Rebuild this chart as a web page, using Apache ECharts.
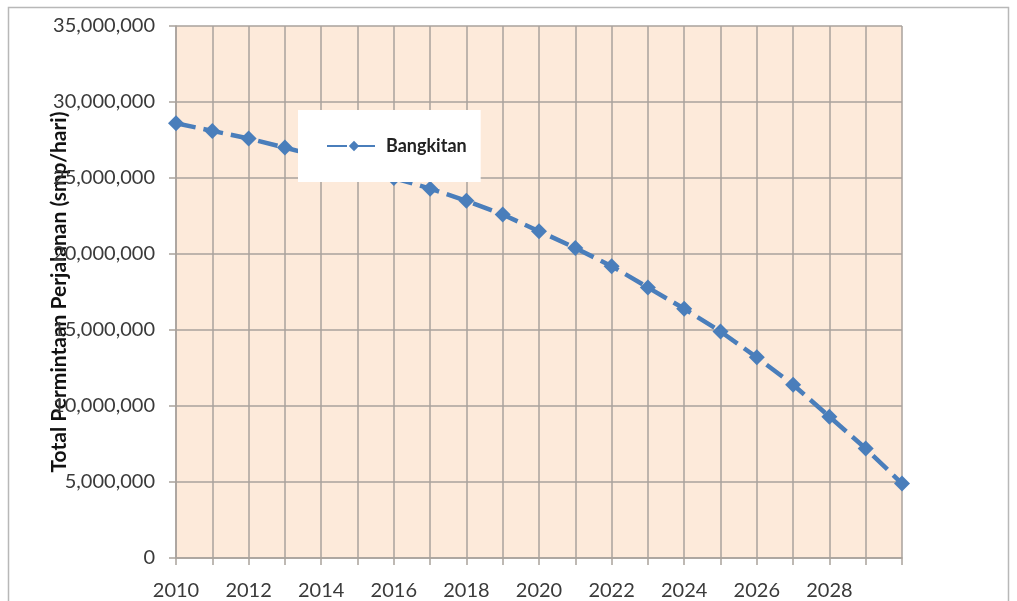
<!DOCTYPE html>
<html>
<head>
<meta charset="utf-8">
<script src="https://cdn.jsdelivr.net/npm/echarts@6/dist/echarts.min.js"></script>
<style>
    html, body { margin: 0; padding: 0; background: #fff; }
    #chart { width: 1017px; height: 601px; }
</style>
</head>
<body>
<div id="chart"></div>
<script>
var years = ['2010', '2011', '2012', '2013', '2014', '2015', '2016', '2017', '2018', '2019', '2020',
             '2021', '2022', '2023', '2024', '2025', '2026', '2027', '2028', '2029', '2030'];
var shownYears = ['2010', '2012', '2014', '2016', '2018', '2020', '2022', '2024', '2026', '2028'];
var bangkitan = [28600000, 28100000, 27600000, 27000000, 26400000, 25700000, 25000000, 24300000,
                 23500000, 22600000, 21500000, 20400000, 19200000, 17800000, 16400000, 14900000,
                 13200000, 11400000, 9300000, 7200000, 4900000];
var seriesName = 'Bangkitan';
var yTitle = 'Total Permintaan Perjalanan (smp/hari)';

var font = 'Lato';
var blue = '#4a7ebb';
var gridColor = '#a9a29c';

function fmt(v) {
    return String(v).replace(/\B(?=(\d{3})+(?!\d))/g, ',');
}

var option = {
    animation: false,
    backgroundColor: '#fff',
    textStyle: { fontFamily: font },
    graphic: [{
        type: 'rect',
        shape: { x: 8.5, y: 7.5, width: 1000, height: 620 },
        style: { fill: 'none', stroke: '#b8b8b8', lineWidth: 1.5 },
        silent: true
    }],
    grid: {
        left: 176, top: 26, width: 726, height: 532,
        show: true,
        backgroundColor: '#fdeada',
        borderWidth: 0
    },
    legend: {
        left: 298, top: 110,
        padding: [27, 14, 27, 28],
        backgroundColor: '#fff',
        itemWidth: 54,
        itemHeight: 13,
        itemGap: 8,
        textStyle: { fontFamily: font, fontSize: 18, fontWeight: 'bold', color: '#222' },
        data: [seriesName]
    },
    xAxis: {
        type: 'category',
        data: years,
        boundaryGap: false,
        axisLine: { show: true, lineStyle: { color: gridColor, width: 1.5 } },
        axisTick: { show: true, interval: 0, length: 7, lineStyle: { color: gridColor, width: 1.5 } },
        splitLine: { show: true, interval: 0, lineStyle: { color: gridColor, width: 1.5 } },
        axisLabel: {
            interval: 0,
            margin: 23,
            fontFamily: font, fontSize: 20, color: '#3a3a3a',
            formatter: function (v) { return shownYears.indexOf(v) >= 0 ? v : ''; }
        }
    },
    yAxis: {
        type: 'value',
        min: 0, max: 35000000, interval: 5000000,
        name: yTitle,
        nameLocation: 'middle',
        nameRotate: 90,
        nameGap: 106,
        nameMoveOverlap: false,
        nameTextStyle: { fontFamily: font, fontSize: 21, fontWeight: 'bold', color: '#111' },
        axisLine: { show: true, lineStyle: { color: gridColor, width: 1.5 } },
        axisTick: { show: true, length: 7, lineStyle: { color: gridColor, width: 1.5 } },
        splitLine: { show: true, lineStyle: { color: gridColor, width: 1.5 } },
        axisLabel: {
            margin: 21,
            fontFamily: font, fontSize: 20, color: '#3a3a3a',
            formatter: fmt
        }
    },
    series: [{
        name: seriesName,
        type: 'line',
        data: bangkitan,
        symbol: 'diamond',
        symbolSize: 16,
        lineStyle: { color: blue, width: 4.5, type: [20, 8] },
        itemStyle: { color: blue }
    }]
};

echarts.init(document.getElementById('chart')).setOption(option);
</script>
</body>
</html>
